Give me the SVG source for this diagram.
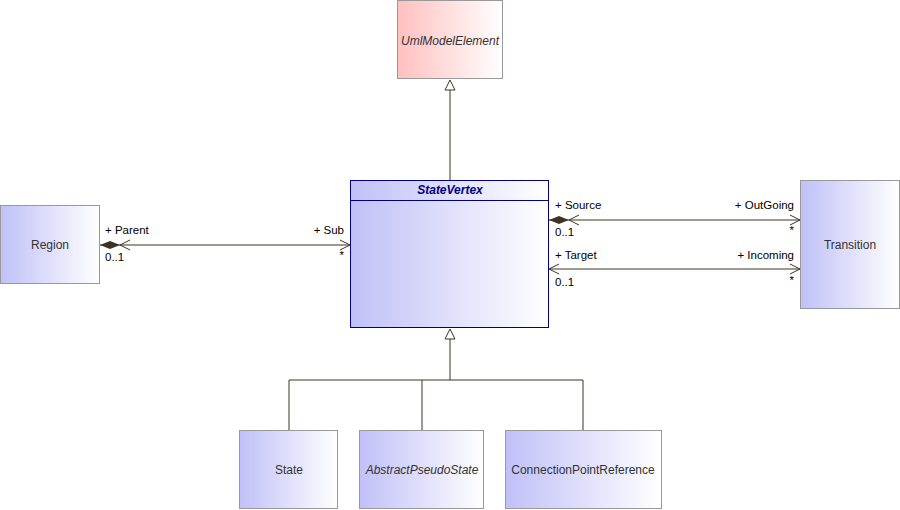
<svg xmlns="http://www.w3.org/2000/svg" width="900" height="510" viewBox="0 0 900 510">
<style>
.box{stroke:#999;stroke-width:1}
.nm{font-family:"Liberation Sans",Arial,sans-serif;font-size:12px;fill:#333;text-anchor:middle}
.lb{font-family:"Liberation Sans",Arial,sans-serif;font-size:11.5px;fill:#000}
.ln{stroke:#3f3222;stroke-width:1;fill:none}
</style>
<defs>
<linearGradient id="gb" x1="0" y1="0" x2="1" y2="0"><stop offset="0" stop-color="#c0c0f8"/><stop offset="1" stop-color="#ffffff"/></linearGradient>
<linearGradient id="gp" x1="0" y1="0" x2="1" y2="0"><stop offset="0" stop-color="#ffc0c0"/><stop offset="1" stop-color="#ffffff"/></linearGradient>
</defs>
<g id="connectors">
<line class="ln" x1="450" y1="90" x2="450" y2="180"/>
<polygon points="450,80 445,90 455,90" fill="#fff" stroke="#3f3222"/>
<polyline class="ln" points="450,339 450,380"/>
<polyline class="ln" points="289,430 289,380 583,380 583,430"/>
<line class="ln" x1="422" y1="380" x2="422" y2="430"/>
<polygon points="450,329 445,339 455,339" fill="#fff" stroke="#3f3222"/>
<line class="ln" x1="100" y1="245" x2="350" y2="245"/>
<polygon points="100,245 110,241 120,245 110,249" fill="#3f3222"/>
<polyline class="ln" points="130,240 120,245 130,250"/>
<polyline class="ln" points="340,240 350,245 340,250"/>
<line class="ln" x1="549" y1="220" x2="800" y2="220"/>
<polygon points="549,220 559,216 569,220 559,224" fill="#3f3222"/>
<polyline class="ln" points="579,215 569,220 579,225"/>
<polyline class="ln" points="790,215 800,220 790,225"/>
<line class="ln" x1="549" y1="269" x2="800" y2="269"/>
<polyline class="ln" points="559,264 549,269 559,274"/>
<polyline class="ln" points="790,264 800,269 790,274"/>
<text class="lb" x="105" y="234">+ Parent</text>
<text class="lb" x="105" y="261">0..1</text>
<text class="lb" x="344" y="234" text-anchor="end">+ Sub</text>
<text class="lb" x="344" y="259" text-anchor="end">*</text>
<text class="lb" x="555" y="209">+ Source</text>
<text class="lb" x="555" y="236">0..1</text>
<text class="lb" x="794" y="209" text-anchor="end">+ OutGoing</text>
<text class="lb" x="794" y="234" text-anchor="end">*</text>
<text class="lb" x="555" y="259">+ Target</text>
<text class="lb" x="555" y="286">0..1</text>
<text class="lb" x="794" y="259" text-anchor="end">+ Incoming</text>
<text class="lb" x="794" y="284" text-anchor="end">*</text>
</g>
<g id="UmlModelElement">
<rect class="box" x="397.5" y="0.5" width="105" height="78" fill="url(#gp)"/>
<text class="nm" x="450" y="45" font-style="italic">UmlModelElement</text>
</g>
<g id="StateVertex">
<rect x="350.5" y="180.5" width="198" height="147" fill="url(#gb)" stroke="#000080"/>
<line x1="350.5" y1="200.5" x2="548.5" y2="200.5" stroke="#000080"/>
<text class="nm" x="450" y="194" font-style="italic" font-weight="bold" style="fill:#000080">StateVertex</text>
</g>
<g id="Region">
<rect class="box" x="0.5" y="205.5" width="99" height="78" fill="url(#gb)"/>
<text class="nm" x="50" y="249">Region</text>
</g>
<g id="Transition">
<rect class="box" x="800.5" y="180.5" width="99" height="128" fill="url(#gb)"/>
<text class="nm" x="850" y="249">Transition</text>
</g>
<g id="State">
<rect class="box" x="239.5" y="430.5" width="98" height="78" fill="url(#gb)"/>
<text class="nm" x="289" y="474">State</text>
</g>
<g id="AbstractPseudoState">
<rect class="box" x="359.5" y="430.5" width="124" height="78" fill="url(#gb)"/>
<text class="nm" x="422" y="474" font-style="italic">AbstractPseudoState</text>
</g>
<g id="ConnectionPointReference">
<rect class="box" x="505.5" y="430.5" width="156" height="78" fill="url(#gb)"/>
<text class="nm" x="583" y="474">ConnectionPointReference</text>
</g>
</svg>
